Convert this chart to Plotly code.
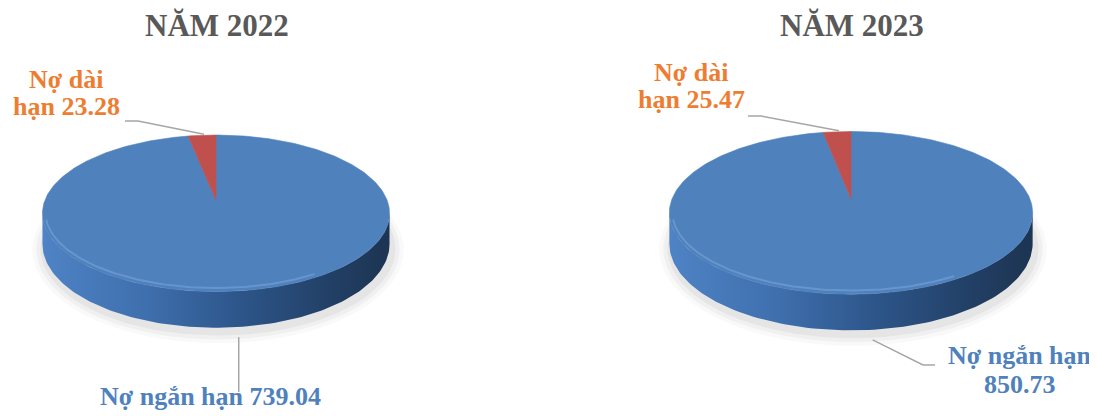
import numpy as np
import plotly.graph_objects as go

# ---- data ----
years = ["NĂM 2022", "NĂM 2023"]
categories = ["Nợ ngắn hạn", "Nợ dài hạn"]
short_term = [739.04, 850.73]
long_term = [23.28, 25.47]

# ---- styles / geometry ----
slice_colors = ["#4F81BD", "#C0504D"]
label_colors = ["#4F81BD", "#ED7D31"]
W, H = 1097, 416
OFF = 8  # page body margin compensation
centers_x = [216, 851]
centers_y = [200, 199]
radii_x = [171, 179]
radii_y = [76, 79]
depth = 30
K = 0.17  # perspective strength
FONT = "Liberation Serif, Times New Roman, serif"


def proj(cx, cy, rx, ry, th_deg, drop=0.0):
    th = np.radians(np.asarray(th_deg, dtype=float))
    X, Z = np.sin(th), np.cos(th)
    f = 1.0 / (1.0 + K * Z)
    return cx + rx * X * f, cy - ry * Z * f + drop * f


def arc(cx, cy, rx, ry, a0, a1, n=120, drop=0.0):
    return proj(cx, cy, rx, ry, np.linspace(a0, a1, n), drop)


fig = go.Figure()
annotations = []
th_e = np.degrees(np.arccos(-K))  # silhouette angle

for i, year in enumerate(years):
    cx, cy, rx, ry = centers_x[i], centers_y[i], radii_x[i], radii_y[i]
    vals = [short_term[i], long_term[i]]
    total = sum(vals)

    # soft shadow
    for grow, alpha in [(12, 0.025), (8, 0.035), (4, 0.045)]:
        sx, sy = arc(cx + 2, cy + 4, rx + grow, ry + grow * 0.8, 0, 360, 200, drop=depth)
        fig.add_trace(go.Scatter(x=sx, y=sy, fill="toself", mode="lines",
                                 line=dict(width=0), fillcolor=f"rgba(0,0,0,{alpha})",
                                 hoverinfo="skip", showlegend=False))

    # side wall (front half)
    tx, ty = arc(cx, cy, rx, ry, th_e, 360 - th_e)
    bx, by = arc(cx, cy, rx, ry, 360 - th_e, th_e, drop=depth)
    fig.add_trace(go.Scatter(
        x=np.concatenate([tx, bx]), y=np.concatenate([ty, by]),
        fill="toself", mode="lines", line=dict(width=0),
        fillgradient=dict(type="horizontal",
                          colorscale=[[0, "#4E83C5"], [0.3, "#3F6FAD"], [0.55, "#2E578C"],
                                      [0.85, "#213E63"], [1, "#1D3452"]]),
        hoverinfo="skip", showlegend=False))

    # top face slices
    start = 0.0
    mids = []
    for j, v in enumerate(vals):
        span = 360.0 * v / total
        ax, ay = arc(cx, cy, rx, ry, start, start + span, max(4, int(span)))
        fig.add_trace(go.Scatter(
            x=np.concatenate([[cx], ax, [cx]]), y=np.concatenate([[cy], ay, [cy]]),
            fill="toself", mode="lines", line=dict(width=0.6, color=slice_colors[j]),
            fillcolor=slice_colors[j], name=categories[j],
            hoverinfo="skip", showlegend=False))
        mids.append(start + span / 2)
        start += span

    # bevel highlight along the front-left rim of the top face
    hx, hy = arc(cx, cy, rx - 3, ry - 3, 150, 255)
    fig.add_trace(go.Scatter(x=hx, y=hy, mode="lines",
                             line=dict(width=2, color="rgba(150,190,240,0.35)"),
                             hoverinfo="skip", showlegend=False))

    # title
    annotations.append(dict(x=cx + 1, y=25, text=f"<b>{year}</b>", showarrow=False,
                            font=dict(family=FONT, size=31, color="#595959"),
                            xanchor="center", yanchor="middle"))

    # long-term label + leader
    px, py = proj(cx, cy, rx, ry, mids[1])
    words = categories[1].split(" ")
    red_lines = [" ".join(words[:2]), f"{words[2]} {long_term[i]:.2f}"]
    lab_x = [66, 691][i]
    lab_y = [79, 72][i]
    elbow_x = [125, 748][i]
    elbow_y = [121, 116][i]
    fig.add_trace(go.Scatter(x=[elbow_x, elbow_x + 13, px + 2], y=[elbow_y, elbow_y, py - 1],
                             mode="lines", line=dict(width=1.5, color="#A6A6A6"),
                             hoverinfo="skip", showlegend=False))
    for k, t in enumerate(red_lines):
        annotations.append(dict(x=lab_x, y=lab_y + 27 * k, text=f"<b>{t}</b>", showarrow=False,
                                font=dict(family=FONT, size=26, color=label_colors[1]),
                                xanchor="center", yanchor="middle"))

    # short-term label + leader
    qx, qy = proj(cx, cy, rx, ry, mids[0], drop=depth)
    qy = qy + 10
    if i == 0:
        fig.add_trace(go.Scatter(x=[qx + 3, qx + 3], y=[qy, 392], mode="lines",
                                 line=dict(width=1.5, color="#A6A6A6"),
                                 hoverinfo="skip", showlegend=False))
        annotations.append(dict(x=210, y=396, text=f"<b>{categories[0]} {short_term[i]:.2f}</b>",
                                showarrow=False,
                                font=dict(family=FONT, size=26, color=label_colors[0]),
                                xanchor="center", yanchor="middle"))
    else:
        fig.add_trace(go.Scatter(x=[qx + 2, 923, 935], y=[qy, 365, 365], mode="lines",
                                 line=dict(width=1.5, color="#A6A6A6"),
                                 hoverinfo="skip", showlegend=False))
        for k, t in enumerate([categories[0], f"{short_term[i]:.2f}"]):
            annotations.append(dict(x=1020, y=355 + 29 * k, text=f"<b>{t}</b>", showarrow=False,
                                    font=dict(family=FONT, size=26, color=label_colors[0]),
                                    xanchor="center", yanchor="middle"))

fig.update_layout(
    width=W - OFF, height=H - OFF,
    margin=dict(l=0, r=0, t=0, b=0),
    paper_bgcolor="white", plot_bgcolor="white",
    xaxis=dict(range=[OFF, W], visible=False, fixedrange=True),
    yaxis=dict(range=[H, OFF], visible=False, fixedrange=True),
    annotations=annotations,
    showlegend=False,
)

fig.write_html("out.html")
